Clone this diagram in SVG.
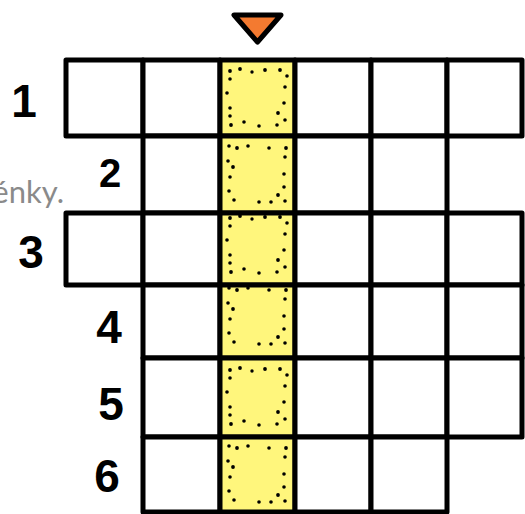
<svg xmlns="http://www.w3.org/2000/svg" width="525" height="514" viewBox="0 0 525 514">
  <style>
    .cell { fill: #ffffff; stroke: #000; stroke-width: 5; stroke-linejoin: round; }
    .hl { fill: #fff67c; stroke: #000; stroke-width: 5; stroke-linejoin: round; }
    .num { font-family: "Liberation Sans", Arial, sans-serif; font-weight: bold; font-size: 46px; fill: #000; text-anchor: middle; }
    .gray { font-family: Lato, "Open Sans", sans-serif; font-size: 31px; fill: #8a8a8a; text-anchor: end; }
    .dot { fill: #000; }
  </style>
  <defs>
    <g id="dotsA" class="dot">
      <circle cx="8" cy="9" r="1.9"/><circle cx="18" cy="7" r="1.9"/><circle cx="30" cy="10" r="1.7"/>
      <circle cx="43" cy="8" r="1.9"/><circle cx="58" cy="8" r="1.9"/><circle cx="65" cy="14" r="1.8"/>
      <circle cx="8" cy="17" r="1.8"/><circle cx="63" cy="25" r="1.8"/><circle cx="5" cy="31" r="1.8"/>
      <circle cx="62" cy="41" r="1.8"/><circle cx="8" cy="46" r="1.8"/><circle cx="56" cy="51" r="1.9"/>
      <circle cx="8" cy="54" r="1.8"/><circle cx="9" cy="63" r="1.9"/><circle cx="22" cy="60" r="1.8"/>
      <circle cx="37" cy="64" r="1.8"/><circle cx="55" cy="63" r="1.8"/><circle cx="63" cy="58" r="1.8"/>
    </g>
    <g id="dotsB" class="dot">
      <circle cx="7" cy="7" r="1.8"/><circle cx="15" cy="9" r="1.9"/><circle cx="26" cy="7" r="1.8"/>
      <circle cx="47" cy="9" r="1.8"/><circle cx="64" cy="9" r="1.9"/><circle cx="6" cy="22" r="1.8"/>
      <circle cx="11" cy="28" r="1.9"/><circle cx="63" cy="18" r="1.8"/><circle cx="62" cy="35" r="1.8"/>
      <circle cx="8" cy="38" r="1.8"/><circle cx="62" cy="48" r="1.8"/><circle cx="7" cy="52" r="1.8"/>
      <circle cx="56" cy="56" r="1.9"/><circle cx="12" cy="61" r="1.8"/><circle cx="37" cy="63" r="1.8"/>
      <circle cx="49" cy="63" r="1.8"/><circle cx="63" cy="62" r="1.8"/>
    </g>
  </defs>

  <text class="gray" x="64" y="203">énky.</text>

  <g id="marker-triangle">
    <polygon points="234,15 281,15 257.5,42" fill="#f47a30" stroke="#000" stroke-width="5" stroke-linejoin="round"/>
  </g>

  <g id="row1">
    <rect class="cell" x="66" y="60" width="77" height="76"/>
    <rect class="cell" x="143" y="60" width="77" height="76"/>
    <rect class="hl" x="220" y="60" width="75" height="76"/>
    <rect class="cell" x="295" y="60" width="76" height="76"/>
    <rect class="cell" x="371" y="60" width="76" height="76"/>
    <rect class="cell" x="447" y="60" width="75" height="76"/>
    <use href="#dotsA" x="222" y="62"/>
    <text class="num" x="24" y="117">1</text>
  </g>

  <g id="row2">
    <rect class="cell" x="143" y="136" width="77" height="77"/>
    <rect class="hl" x="220" y="136" width="75" height="77"/>
    <rect class="cell" x="295" y="136" width="76" height="77"/>
    <rect class="cell" x="371" y="136" width="76" height="77"/>
    <use href="#dotsB" x="222" y="139"/>
    <text class="num" x="110" y="187" style="font-size:40px">2</text>
  </g>

  <g id="row3">
    <rect class="cell" x="66" y="213" width="77" height="72"/>
    <rect class="cell" x="143" y="213" width="77" height="72"/>
    <rect class="hl" x="220" y="213" width="75" height="72"/>
    <rect class="cell" x="295" y="213" width="76" height="72"/>
    <rect class="cell" x="371" y="213" width="76" height="72"/>
    <rect class="cell" x="447" y="213" width="75" height="72"/>
    <use href="#dotsA" x="222" y="213" transform="translate(0,-4)"/>
    <text class="num" x="31" y="268">3</text>
  </g>

  <g id="row4">
    <rect class="cell" x="143" y="285" width="77" height="73"/>
    <rect class="hl" x="220" y="285" width="75" height="73"/>
    <rect class="cell" x="295" y="285" width="76" height="73"/>
    <rect class="cell" x="371" y="285" width="76" height="73"/>
    <rect class="cell" x="447" y="285" width="75" height="73"/>
    <use href="#dotsB" x="222" y="285" transform="translate(0,-4)"/>
    <text class="num" x="109" y="343">4</text>
  </g>

  <g id="row5">
    <rect class="cell" x="143" y="358" width="77" height="79"/>
    <rect class="hl" x="220" y="358" width="75" height="79"/>
    <rect class="cell" x="295" y="358" width="76" height="79"/>
    <rect class="cell" x="371" y="358" width="76" height="79"/>
    <rect class="cell" x="447" y="358" width="75" height="79"/>
    <use href="#dotsA" x="222" y="361"/>
    <text class="num" x="111" y="420">5</text>
  </g>

  <g id="row6">
    <rect class="cell" x="143" y="437" width="77" height="75"/>
    <rect class="hl" x="220" y="437" width="75" height="75"/>
    <rect class="cell" x="295" y="437" width="76" height="75"/>
    <rect class="cell" x="371" y="437" width="76" height="75"/>
    <use href="#dotsB" x="222" y="439"/>
    <text class="num" x="107" y="492">6</text>
  </g>
</svg>
